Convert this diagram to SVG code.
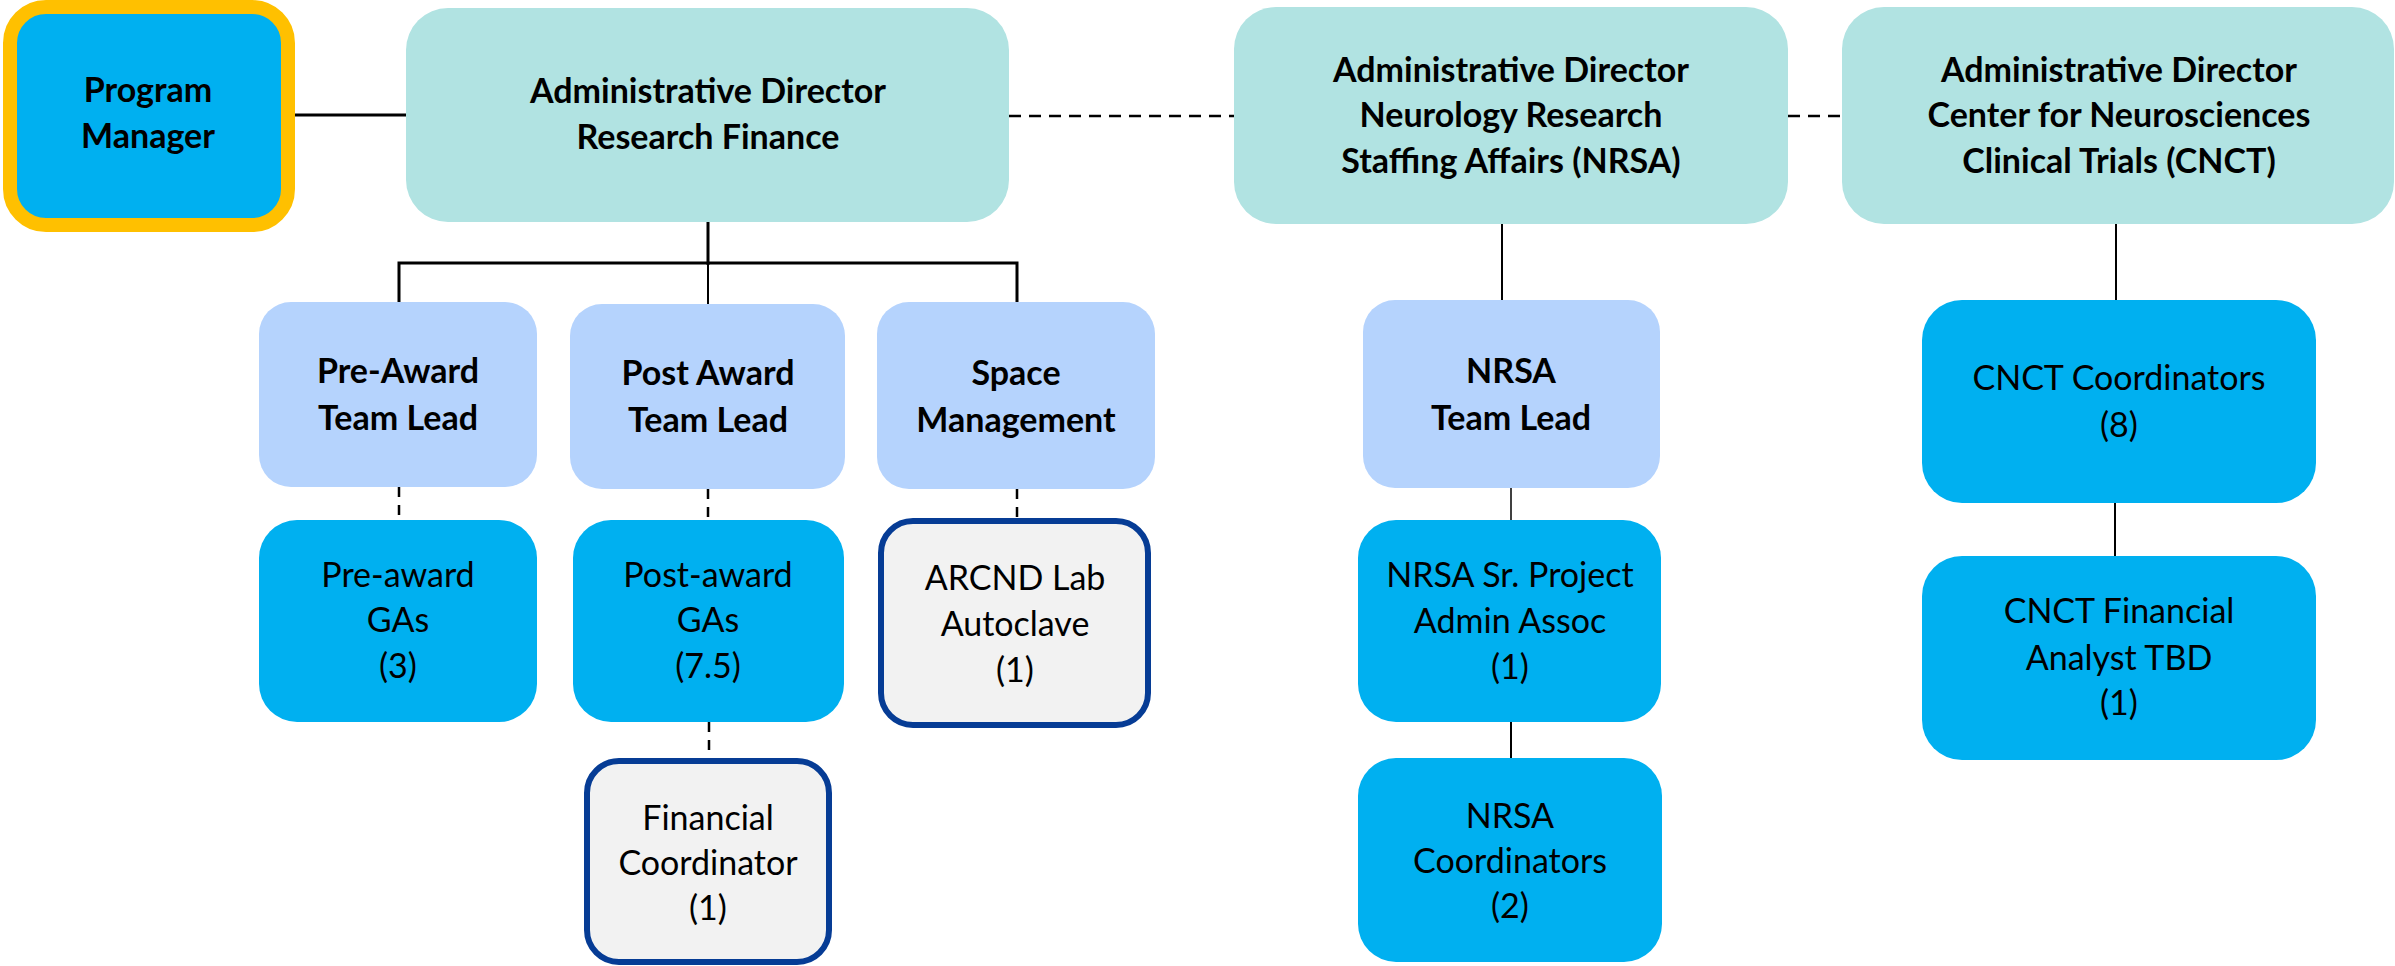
<svg xmlns="http://www.w3.org/2000/svg" width="2395" height="966" viewBox="0 0 2395 966">
<style>
text{font-family:Lato,"Liberation Sans",sans-serif;font-size:34px;fill:#000;text-anchor:middle}
.b{font-weight:bold}
.dir{fill:#B1E3E2}
.tl{fill:#B5D3FD}
.blue{fill:#00B0F0}
.gray{fill:#F2F2F2;stroke:#063C95;stroke-width:6}
.ln{stroke:#000;fill:none;stroke-width:2}
.thick{stroke-width:3}
.thin{stroke-width:1.5}
.dash{stroke-dasharray:12 8;stroke-width:2.5}
.vdash{stroke-dasharray:10 8;stroke-width:2.5}
</style>
<rect width="2395" height="966" fill="#fff"/>
<g id="connectors">
<line class="ln thick" x1="295" y1="115" x2="406" y2="115"/>
<line class="ln dash" x1="1009" y1="116" x2="1234" y2="116"/>
<line class="ln dash" x1="1788" y1="116" x2="1842" y2="116"/>
<line class="ln thick" x1="708" y1="222" x2="708" y2="265"/>
<polyline class="ln thick" points="399,302 399,263 1017,263 1017,302"/>
<line class="ln" x1="708" y1="263" x2="708" y2="304"/>
<line class="ln vdash" x1="399" y1="487" x2="399" y2="520"/>
<line class="ln vdash" x1="708" y1="489" x2="708" y2="520"/>
<line class="ln vdash" x1="1017" y1="489" x2="1017" y2="518"/>
<line class="ln vdash" x1="709" y1="722" x2="709" y2="758"/>
<line class="ln" x1="1502" y1="224" x2="1502" y2="300"/>
<line class="ln thin" x1="1511" y1="488" x2="1511" y2="520"/>
<line class="ln" x1="1511" y1="722" x2="1511" y2="758"/>
<line class="ln" x1="2116" y1="224" x2="2116" y2="300"/>
<line class="ln" x1="2115" y1="503" x2="2115" y2="556"/>
</g>
<g id="program-manager">
<rect x="10" y="7" width="278" height="218" rx="36" fill="#00B0F0" stroke="#FFC000" stroke-width="14"/>
<text class="b" x="148" y="102">Program</text>
<text class="b" x="148" y="148">Manager</text>
</g>
<g id="ad-research-finance">
<rect class="dir" x="406" y="8" width="603" height="214" rx="42"/>
<text class="b" x="708" y="103">Administrative Director</text>
<text class="b" x="708" y="149">Research Finance</text>
</g>
<g id="ad-nrsa">
<rect class="dir" x="1234" y="7" width="554" height="217" rx="42"/>
<text class="b" x="1511" y="82">Administrative Director</text>
<text class="b" x="1511" y="127">Neurology Research</text>
<text class="b" x="1511" y="173">Staffing Affairs (NRSA)</text>
</g>
<g id="ad-cnct">
<rect class="dir" x="1842" y="7" width="552" height="217" rx="42"/>
<text class="b" x="2119" y="82">Administrative Director</text>
<text class="b" x="2119" y="127">Center for Neurosciences</text>
<text class="b" x="2119" y="173">Clinical Trials (CNCT)</text>
</g>
<g id="pre-award-tl">
<rect class="tl" x="259" y="302" width="278" height="185" rx="32"/>
<text class="b" x="398" y="383">Pre-Award</text>
<text class="b" x="398" y="430">Team Lead</text>
</g>
<g id="post-award-tl">
<rect class="tl" x="570" y="304" width="275" height="185" rx="32"/>
<text class="b" x="708" y="385">Post Award</text>
<text class="b" x="708" y="432">Team Lead</text>
</g>
<g id="space-management">
<rect class="tl" x="877" y="302" width="278" height="187" rx="32"/>
<text class="b" x="1016" y="385">Space</text>
<text class="b" x="1016" y="432">Management</text>
</g>
<g id="nrsa-tl">
<rect class="tl" x="1363" y="300" width="297" height="188" rx="32"/>
<text class="b" x="1511" y="383">NRSA</text>
<text class="b" x="1511" y="430">Team Lead</text>
</g>
<g id="pre-award-gas">
<rect class="blue" x="259" y="520" width="278" height="202" rx="38"/>
<text x="398" y="587">Pre-award</text>
<text x="398" y="632">GAs</text>
<text x="398" y="678">(3)</text>
</g>
<g id="post-award-gas">
<rect class="blue" x="573" y="520" width="271" height="202" rx="38"/>
<text x="708" y="587">Post-award</text>
<text x="708" y="632">GAs</text>
<text x="708" y="678">(7.5)</text>
</g>
<g id="arcnd-autoclave">
<rect class="gray" x="881" y="521" width="267" height="204" rx="32"/>
<text x="1015" y="590">ARCND Lab</text>
<text x="1015" y="636">Autoclave</text>
<text x="1015" y="682">(1)</text>
</g>
<g id="financial-coordinator">
<rect class="gray" x="587" y="761" width="242" height="201" rx="32"/>
<text x="708" y="830">Financial</text>
<text x="708" y="875">Coordinator</text>
<text x="708" y="920">(1)</text>
</g>
<g id="nrsa-sr-project">
<rect class="blue" x="1358" y="520" width="303" height="202" rx="38"/>
<text x="1510" y="587">NRSA Sr. Project</text>
<text x="1510" y="633">Admin Assoc</text>
<text x="1510" y="679">(1)</text>
</g>
<g id="nrsa-coordinators">
<rect class="blue" x="1358" y="758" width="304" height="204" rx="38"/>
<text x="1510" y="828">NRSA</text>
<text x="1510" y="873">Coordinators</text>
<text x="1510" y="918">(2)</text>
</g>
<g id="cnct-coordinators">
<rect class="blue" x="1922" y="300" width="394" height="203" rx="40"/>
<text x="2119" y="390">CNCT Coordinators</text>
<text x="2119" y="437">(8)</text>
</g>
<g id="cnct-financial-analyst">
<rect class="blue" x="1922" y="556" width="394" height="204" rx="40"/>
<text x="2119" y="623">CNCT Financial</text>
<text x="2119" y="670">Analyst TBD</text>
<text x="2119" y="715">(1)</text>
</g>
</svg>
